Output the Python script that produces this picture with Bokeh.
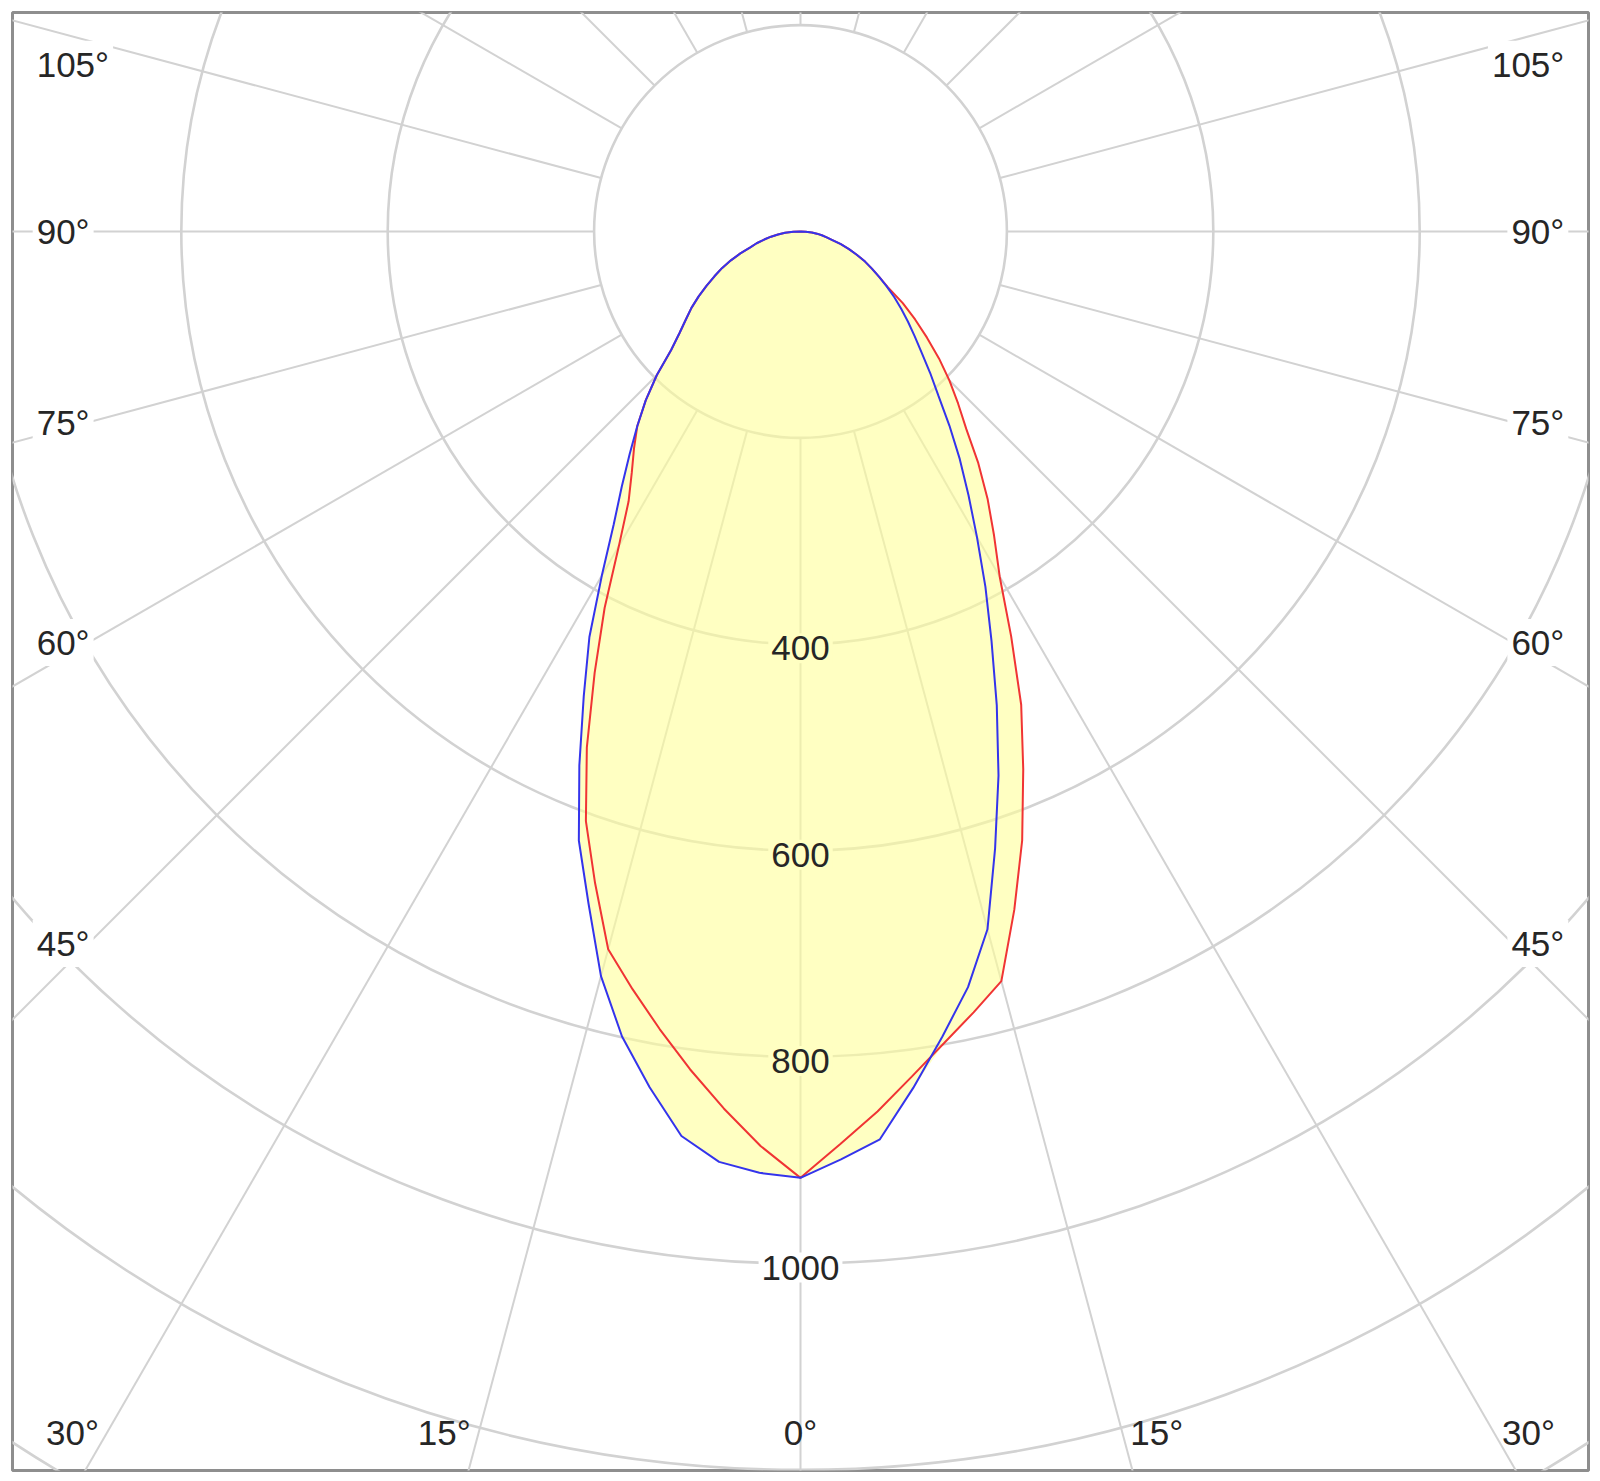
import numpy as np
from bokeh.plotting import figure
from bokeh.models import Range1d
from bokeh.embed import file_html
from bokeh.resources import INLINE
from bokeh.core.properties import value

# ---------------- data (cd/klm) ----------------
angles = [0, 2.5, 5, 7.5, 10, 12.5, 15, 17.5, 20, 22.5, 25, 27.5, 30, 32.5, 35, 37.5, 40, 42.5, 45,
          47.5, 50, 52.5, 55, 57.5, 60, 62.5, 65, 67.5, 70, 72.5, 75, 77.5, 80, 82.5, 85, 87.5, 90]
# blue curve (C0 / C180 plane)
c0 = [917, 900, 883, 837, 792, 750, 700, 627, 561, 497, 438, 388, 342, 303, 269, 237, 208, 186, 166,
      150, 136, 123, 111, 99, 88, 78, 69, 59, 50, 41, 32, 26, 21, 16, 11, 5, 0]          # right side
c180 = [917, 913, 905, 884, 842, 799, 747, 683, 628, 560, 497, 443, 385, 337, 302, 272, 246, 222, 197,
        170, 153, 140, 129, 117, 105, 94, 84, 73, 62, 51, 44, 36, 29, 22, 15, 7, 0]       # left side
# red curve (C90 / C270 plane)
c90 = [917, 885, 856, 826, 799, 775, 752, 689, 628, 564, 506, 442, 386, 349, 316, 283, 250, 226, 204,
       182, 160, 140, 121, 100, 88, 78, 69, 59, 50, 41, 32, 26, 21, 16, 11, 5, 0]         # right side
c270 = [917, 887, 853, 819, 785, 752, 720, 662, 608, 541, 472, 411, 352, 310, 285, 265, 246, 222, 197,
        170, 153, 140, 129, 117, 105, 94, 84, 73, 62, 51, 44, 36, 29, 22, 15, 7, 0]       # left side

ring_values = [200, 400, 600, 800, 1000, 1200, 1400]
ring_label_values = [400, 600, 800, 1000]
grid_angles = list(range(0, 360, 15))
side_label_angles = [105, 90, 75, 60, 45]
bottom_label_angles = [-30, -15, 0, 15, 30]

# ---------------- geometry / style ----------------
S = 1.032                 # px per unit
LEFT_PX, RIGHT_PX = 788, 788
TOP_PX, BOTTOM_PX = 219, 1239
GRID = "#d2d2d2"
FILL = "#ffff99"
FILL_ALPHA = 0.6
FILL_SEEN = "#ffffc2"
BLUE = "#3434ec"
RED = "#f03434"
TXT = "#262626"
FONT = value("Liberation Sans")
FS = "35px"

p = figure(width=1596, height=1478, output_backend="svg", toolbar_location=None,
           x_range=Range1d(-LEFT_PX / S, RIGHT_PX / S),
           y_range=Range1d(-BOTTOM_PX / S, TOP_PX / S),
           x_axis_type=None, y_axis_type=None,
           min_border_left=12, min_border_right=8, min_border_top=12, min_border_bottom=8)
p.grid.visible = False
p.outline_line_color = "#8e8e8e"
p.outline_line_width = 3
p.background_fill_color = "white"
p.border_fill_color = "white"

# radial grid lines (starting at the 200 ring)
r0, r1 = ring_values[0], 2000
xs, ys = [], []
for a in grid_angles:
    t = np.radians(a)
    xs.append([r0 * np.sin(t), r1 * np.sin(t)])
    ys.append([-r0 * np.cos(t), -r1 * np.cos(t)])
p.multi_line(xs, ys, line_color=GRID, line_width=2)

# rings
p.circle(x=[0] * len(ring_values), y=[0] * len(ring_values), radius=ring_values,
         fill_color=None, line_color=GRID, line_width=2.6)


def polar_path(left, right):
    th = np.radians(np.array(angles, dtype=float))
    l = np.array(left, dtype=float)
    r = np.array(right, dtype=float)
    x = np.concatenate([(-l * np.sin(th))[::-1], (r * np.sin(th))[1:]])
    y = np.concatenate([(-l * np.cos(th))[::-1], (-r * np.cos(th))[1:]])
    return x, y


# filled envelope of both planes
fx, fy = polar_path(np.maximum(c180, c270), np.maximum(c0, c90))
p.patch(fx, fy, fill_color=FILL, fill_alpha=FILL_ALPHA, line_color=None)

rx, ry = polar_path(c270, c90)
p.line(rx, ry, line_color=RED, line_width=2)
bx, by = polar_path(c180, c0)
p.line(bx, by, line_color=BLUE, line_width=2)

# ring value labels on the 0° axis
lab_bg = [FILL_SEEN if v < c0[0] else "white" for v in ring_label_values]
p.text(x=[0] * len(ring_label_values), y=[-v for v in ring_label_values],
       text=[str(v) for v in ring_label_values], text_align="center", text_baseline="middle",
       y_offset=4, text_font=FONT, text_font_size=FS, text_color=TXT,
       background_fill_color=lab_bg, padding=3)

# side angle labels
SIDE_X = 744.0
SIDE_D = 690.0
Y_CAP = 162.0
sy = [min(-SIDE_D / np.tan(np.radians(a)) if a != 90 else 0.0, Y_CAP) for a in side_label_angles]
stxt = [f"{a}°" for a in side_label_angles]
p.text(x=[-SIDE_X] * len(sy), y=sy, text=stxt, text_align="left", text_baseline="middle",
       text_font=FONT, text_font_size=FS, text_color=TXT,
       background_fill_color="white", padding=4)
p.text(x=[SIDE_X] * len(sy), y=sy, text=stxt, text_align="right", text_baseline="middle",
       text_font=FONT, text_font_size=FS, text_color=TXT,
       background_fill_color="white", padding=4)

# bottom angle labels
BOT_Y = -1164.0
bx_l = [abs(BOT_Y) * np.tan(np.radians(a)) for a in bottom_label_angles]
aligns = ["right" if a < 0 else ("left" if a > 0 else "center") for a in bottom_label_angles]
offs = [-8 if a < 0 else (8 if a > 0 else 0) for a in bottom_label_angles]
p.text(x=bx_l, y=[BOT_Y] * len(bx_l), text=[f"{abs(a)}°" for a in bottom_label_angles],
       text_align=aligns, x_offset=offs, text_baseline="middle",
       text_font=FONT, text_font_size=FS, text_color=TXT)

open("out.html", "w").write(file_html(p, INLINE))
